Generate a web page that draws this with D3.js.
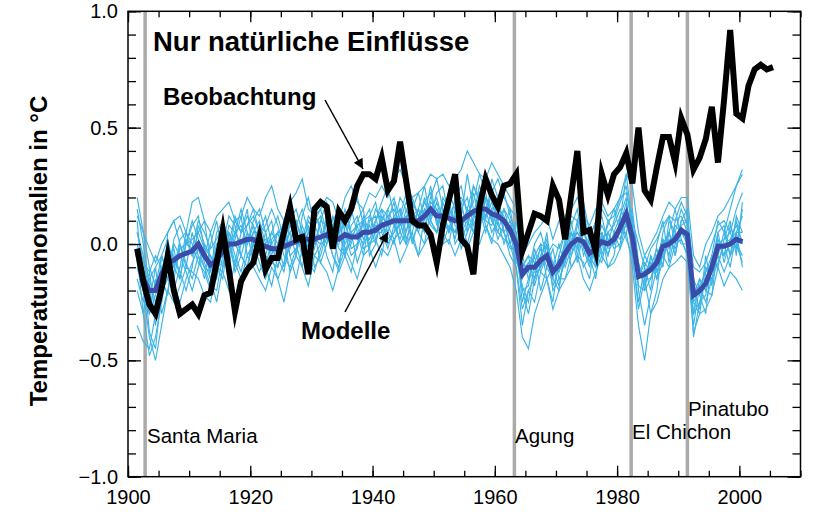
<!DOCTYPE html>
<html><head><meta charset="utf-8">
<script src="https://cdn.jsdelivr.net/npm/d3@7"></script>
<style>body{margin:0;background:#fff}</style>
</head><body>
<svg id="c" width="814" height="515"></svg>
<script>
// ---------- DATA ----------
const obsYears = d3.range(1901, 2006);
const observed = [
-0.02,-0.16,-0.26,-0.30,-0.19,-0.05,-0.20,-0.30,-0.28,-0.26,
-0.30,-0.22,-0.21,-0.08,0.06,-0.11,-0.29,-0.16,-0.11,-0.08,
0.03,-0.11,-0.06,-0.06,0.05,0.16,0.02,0.03,-0.13,0.15,
0.18,0.16,-0.02,0.14,0.10,0.15,0.25,0.30,0.30,0.28,
0.37,0.23,0.27,0.44,0.27,0.10,0.08,0.08,0.04,-0.08,
0.08,0.19,0.30,0.02,-0.01,-0.13,0.16,0.28,0.21,0.16,
0.25,0.26,0.30,-0.03,0.05,0.13,0.12,0.10,0.25,0.19,
0.02,0.21,0.40,0.05,0.06,-0.03,0.30,0.21,0.30,0.33,
0.39,0.26,0.50,0.23,0.19,0.33,0.46,0.46,0.35,0.54,
0.47,0.32,0.37,0.45,0.59,0.35,0.62,0.92,0.56,0.54,
0.68,0.75,0.77,0.75,0.76];
const modelYears = d3.range(1901, 2001);
const modelMean = [
-0.03,-0.15,-0.20,-0.20,-0.13,-0.08,-0.07,-0.05,-0.04,-0.03,
0.00,-0.05,-0.09,-0.07,-0.03,0.00,0.00,0.01,0.02,0.02,
0.00,-0.01,-0.02,-0.02,-0.01,0.00,0.01,0.02,0.02,0.02,
0.03,0.04,0.02,0.02,0.04,0.03,0.03,0.05,0.05,0.06,
0.08,0.09,0.10,0.10,0.10,0.10,0.10,0.12,0.15,0.12,
0.12,0.11,0.10,0.10,0.12,0.14,0.15,0.15,0.13,0.12,
0.10,0.06,0.00,-0.13,-0.10,-0.10,-0.07,-0.05,-0.12,-0.09,
-0.04,0.00,0.02,0.01,-0.04,-0.02,0.01,0.00,0.02,0.07,
0.13,0.03,-0.14,-0.13,-0.11,-0.08,-0.01,0.00,0.02,0.06,
0.04,-0.22,-0.20,-0.17,-0.10,-0.01,-0.01,0.00,0.02,0.01];
const run01 = [.20,.05,-.10,-.18,-.05,.02,-.10,-.15,.00,.08, .12,-.02,-.12,.05,.10,.02,-.08,.05,.12,.08, -.05,.05,.10,-.06,-.12,.02,.08,.15,.05,-.02, .10,.18,.05,-.08,.02,.12,.20,.08,-.02,.10, .18,.25,.12,.00,.05,.15,.22,.10,.20,.28, .15,.05,.20,.25,.12,.18,.30,.22,.10,.18, .22,.12,.05,-.20,-.30,-.15,-.05,.02,-.10,-.18, -.05,.08,.15,-.02,-.10,.05,.12,.00,.10,.18, .25,.05,-.20,-.35,-.22,-.10,.05,.12,.00,.10, .15,-.25,-.30,-.12,-.05,.10,.05,.15,.25,.30];
const run02 = [-.35,-.42,-.45,-.30,-.15,-.22,.00,-.05,-.12,-.20, -.10,.00,-.15,-.25,-.10,.05,-.05,-.12,.00,.10, .15,.05,-.08,.00,.10,-.05,-.15,-.02,.10,.05, -.08,.00,.12,.05,-.05,-.12,.00,.10,.15,.02, -.05,.10,.18,.05,.00,.12,.05,.00,.15,.20, .10,.22,.15,-.02,.05,.25,.20,.10,.28,.20, .05,-.05,-.10,-.35,-.20,-.25,-.12,-.15,-.25,-.05, .05,-.10,-.05,.08,.05,-.10,-.02,.10,.05,-.02, .10,.15,-.08,-.20,-.05,-.15,-.08,.05,.15,.02, -.05,-.35,-.18,-.25,-.15,-.05,-.12,-.05,.05,-.10];
const run03 = [.10,-.20,-.30,-.15,-.25,.05,.10,.00,-.10,.05, -.05,-.15,.00,.10,-.05,-.10,.05,.15,.05,-.08, .02,-.10,-.18,-.05,.05,.12,.00,-.10,.05,.12, .08,-.05,-.12,.05,.15,.05,-.08,.00,.12,.18, .05,-.02,.08,.20,.15,.02,-.05,.12,.25,.10, .00,.08,.05,.12,.30,.15,.05,.20,.12,.02, .08,.15,.00,-.25,-.15,-.05,-.20,-.10,-.02,-.15, -.15,-.05,.08,.15,.00,-.08,.05,-.10,-.05,.12, .20,-.05,-.25,-.10,-.20,.00,.10,-.08,.05,.15, .08,-.20,-.28,-.05,-.18,.05,.08,-.05,.12,.05];
const run04 = [-.05,-.10,-.38,-.45,-.20,-.15,-.12,.02,.05,-.05, .05,.10,-.08,-.15,.00,.12,.08,-.05,-.10,.05, .10,.00,.05,.12,.02,-.12,-.05,.08,.00,-.05, .00,.12,.05,.12,-.02,.00,.10,.15,-.05,.00, .15,.05,.00,.12,.22,.15,.08,.20,.10,.05, .20,.15,.00,.05,.15,.05,.18,.08,.00,.15, .12,.00,.10,-.10,-.05,-.18,-.08,.05,-.15,-.20, .00,.10,-.05,-.08,-.15,.05,.00,.08,.15,.05, .05,.12,-.10,-.15,-.30,-.20,.00,.05,-.05,.08, .10,-.15,-.22,-.30,-.05,-.10,.02,.10,-.05,.18];
const run05 = [-.15,-.25,-.12,-.30,-.05,-.15,-.20,-.10,.05,.00, -.08,-.12,-.20,-.02,-.10,-.05,.10,.05,.15,-.05, -.12,-.05,.05,.00,-.10,.10,.15,.05,-.05,.10, .15,.05,-.05,-.10,.08,.02,.05,-.05,.10,.12, .00,.15,.20,.10,.00,.05,.15,.25,.10,.05, .15,.05,.12,.02,.08,.22,.12,.25,.20,.10, .15,.10,.05,-.15,-.10,-.05,.00,-.15,-.10,.00, -.10,-.02,.10,-.05,.02,.10,-.05,.05,-.02,.00, .15,.00,-.15,-.05,-.10,-.02,-.10,.10,.05,.00, .00,-.30,-.15,-.20,-.22,.00,-.05,.08,.00,-.08];
const run06 = [.05,-.05,-.25,-.10,-.30,-.20,-.05,-.12,-.20,-.10, .08,.00,-.05,-.12,.05,.00,-.10,.00,.08,.12, .05,.12,.00,-.10,.00,.05,-.05,.12,.20,.08, .02,.10,.00,.00,.12,.15,.05,.00,.05,.15, .10,.00,.05,.15,.05,.18,.12,.05,.18,.15, .05,.00,.15,.10,.00,.10,.22,.15,.05,.10, .00,.08,-.05,-.20,-.18,-.02,-.12,-.05,-.18,-.10, -.02,.05,-.02,.10,-.08,.00,.08,.02,.00,.10, .30,.08,-.18,-.20,-.15,-.05,.02,-.05,.10,.12, .05,-.40,-.25,-.15,-.08,.05,-.08,.02,.08,.00];
const run07 = [.00,-.12,-.15,-.25,-.15,.00,-.15,-.02,.00,.10, .02,-.08,-.15,-.05,.05,-.05,.02,.12,-.05,.00, -.02,-.10,.02,.05,.08,-.02,.05,-.05,.00,.15, .05,.00,.08,-.02,-.05,.08,.12,.02,.08,.00, .12,.08,.02,.05,.15,.08,.15,.05,.10,.18, .08,.15,.10,.18,.05,.12,.10,.12,.18,.08, .05,-.02,-.02,-.05,-.15,-.12,-.05,.00,-.08,-.12, .02,.05,-.08,.05,.00,-.05,-.08,.05,.08,.15, .10,-.02,-.08,-.18,-.05,-.12,-.05,.02,-.02,.05, .00,-.18,-.22,-.10,-.15,-.08,.00,-.10,.05,.12];
const run08 = [-.10,-.20,-.30,-.22,-.10,-.05,-.02,-.15,.02,-.05, .00,-.05,.05,-.10,-.15,.05,.00,-.05,.05,.00, .08,.05,-.05,-.15,-.08,.00,.10,.00,.08,-.10, -.05,.05,.10,.15,.05,-.05,-.02,.10,.00,.05, .05,.12,.15,.08,.12,.00,.10,.18,.22,.08, .18,.10,.05,.15,.20,.08,.15,.05,.15,.18, .10,.00,-.05,-.18,-.25,-.08,-.02,-.10,-.15,-.05, -.08,.02,.05,.00,-.05,-.10,.02,-.05,.05,.02, .12,.05,-.12,-.12,-.08,-.15,.02,-.02,.08,.05, .05,-.22,-.15,-.20,-.12,.00,.02,.05,-.02,.15];
const run09 = [.15,.00,-.18,-.35,-.18,-.10,-.10,.00,-.08,-.15, -.05,-.10,-.12,.00,-.05,.08,.05,.00,.00,.08, .00,.02,.00,.05,.05,-.05,-.02,.05,-.02,.00, .10,.08,.02,.05,.10,-.02,.00,.05,.02,.08, .08,.05,.12,.15,.02,.10,.05,.15,.12,.15, .10,.05,.12,.08,.15,.12,.25,.18,.10,.05, .15,.05,-.08,-.12,-.08,-.15,.00,-.02,-.12,-.08, .00,-.05,.02,.05,-.02,.02,.05,-.02,.00,.08, .18,.00,-.15,-.08,-.12,-.05,-.02,.05,-.05,.10, .10,-.20,-.18,-.12,-.08,.02,-.05,.00,.10,.00];
const run10 = [-.05,-.30,-.15,-.10,-.05,-.12,-.08,-.02,.00,.02, .05,-.02,-.05,-.10,-.08,-.02,.05,.08,.00,.05, .05,-.05,-.08,-.10,.02,.08,.02,.00,.05,.02, .00,.02,.05,.08,.00,.05,.08,.10,.12,.05, .10,.15,.08,.10,.18,.12,.15,.08,.15,.10, .12,.18,.08,.05,.10,.15,.12,.10,.08,.15, .05,.10,.00,-.10,-.05,-.08,-.10,-.05,-.08,-.12, -.05,.00,.05,.00,-.08,.00,.02,.05,.00,.05, .08,.00,-.10,-.15,-.15,-.05,.00,.00,.02,.05, .02,-.25,-.20,-.18,-.12,.00,.00,.02,.05,.05];
const run11 = [-.08,-.20,-.40,-.50,-.35,-.20,-.25,-.18,-.10,-.12, -.15,-.22,-.25,-.10,-.12,-.20,-.08,-.15,-.05,-.10, -.15,-.20,-.10,-.15,-.25,-.12,-.05,-.10,-.18,-.05, -.08,-.12,-.20,-.10,-.02,-.08,-.15,-.05,-.02,-.10, -.02,-.05,.02,-.08,-.02,.05,-.05,.00,.05,-.02, .00,.02,-.05,.02,-.02,.05,.00,.08,.02,.00, -.05,-.10,-.20,-.40,-.45,-.30,-.22,-.15,-.28,-.20, -.15,-.10,-.05,-.15,-.20,-.12,-.05,-.10,-.08,-.02, .05,-.10,-.35,-.50,-.30,-.25,-.15,-.10,-.08,-.05, -.08,-.38,-.30,-.28,-.22,-.10,-.18,-.12,-.15,-.20];
const run12 = [.12,.05,-.02,-.08,.00,.05,.10,.12,.05,.18, .20,.10,.05,.12,.15,.18,.10,.12,.20,.15, .12,.20,.25,.15,.10,.18,.22,.28,.15,.12, .15,.20,.18,.10,.20,.25,.18,.15,.22,.20, .25,.20,.28,.32,.25,.20,.22,.25,.30,.28, .30,.25,.28,.32,.40,.35,.30,.28,.35,.30, .25,.20,.15,-.05,.00,.05,.08,.12,.02,.10, .12,.15,.20,.12,.08,.15,.18,.12,.15,.20, .30,.25,.05,-.05,.00,.05,.12,.18,.15,.20, .20,-.05,-.10,.00,.05,.12,.15,.20,.25,.32];
const run13 = [-.20,-.30,-.48,-.40,-.25,-.10,-.18,-.25,-.15,-.08, -.02,-.10,-.18,-.20,-.05,.02,-.12,-.05,-.10,.00, -.08,-.15,-.05,.05,-.05,-.10,-.02,.05,-.08,-.12, -.02,.05,-.05,-.12,-.05,.02,.08,-.02,.00,.02, .10,.02,.05,.08,.12,.02,.08,.15,.08,.05, .08,.12,.02,.15,.10,.05,.10,.20,.15,.05, .02,.00,-.10,-.28,-.20,-.15,-.10,.00,-.20,-.15, -.08,.05,.00,-.10,-.05,-.15,.05,-.05,.05,.12, .02,-.05,-.28,-.15,-.08,-.12,-.05,-.10,.00,.02, -.05,-.30,-.25,-.22,-.05,-.05,.05,-.05,.00,-.05];
const run14 = [.05,-.08,-.12,-.05,-.10,-.15,.02,.08,.00,-.02, .10,.05,-.02,.02,.08,.00,.12,.05,.08,.15, .05,.08,.15,.08,-.02,.05,.10,.02,.12,.08, .12,.02,.08,.15,.10,.05,.02,.12,.05,.10, .15,.12,.08,.02,.10,.20,.12,.18,.12,.22, .25,.12,.18,.20,.15,.25,.18,.12,.22,.28, .20,.15,.12,-.08,-.12,.00,.05,-.05,.00,-.02, .05,.12,.10,.18,.05,.08,.15,.10,.12,.20, .22,.10,.00,-.10,-.02,.02,.08,.12,.10,.18, .12,-.10,-.12,-.08,.00,.08,.10,.05,.15,.22];
const modelRuns = [run01,run02,run03,run04,run05,run06,run07,run08,run09,run10,run11,run12,run13,run14];
const volcanoNames = ["Santa Maria","Agung","El Chichon","Pinatubo"];
const volcanoYears = [1902.8, 1963.2, 1982.3, 1991.5];
const xTickValues = [1900,1920,1940,1960,1980,2000];
const xTickLabels = ["1900","1920","1940","1960","1980","2000"];
const yTickValues = [-1,-0.5,0,0.5,1];
const yTickLabels = ["\u22121.0","\u22120.5","0.0","0.5","1.0"];
const titleText = "Nur natürliche Einflüsse";
const yLabelText = "Temperaturanomalien in °C";

// ---------- DRAW ----------
const svg = d3.select("#c");
const FONT = "'Liberation Sans', Arial, Helvetica, sans-serif";
svg.append("rect").attr("width",814).attr("height",515).attr("fill","#fff");
const L=128, R=800.5, T=11.3, B=476.7;
const x = d3.scaleLinear().domain([1900,2010]).range([L,R]);
const y = d3.scaleLinear().domain([-1,1]).range([B,T]);

// volcano lines
svg.append("g").selectAll("line").data(volcanoYears).join("line")
  .attr("x1",d=>x(d)).attr("x2",d=>x(d)).attr("y1",T).attr("y2",B)
  .attr("stroke","#aaaaaa").attr("stroke-width",3.5);

const mLine = d3.line().x((d,i)=>x(modelYears[i]+0.5)).y(d=>y(d));
const oLine = d3.line().x((d,i)=>x(obsYears[i]+0.5)).y(d=>y(d));

svg.append("g").selectAll("path").data(modelRuns).join("path")
  .attr("d",mLine).attr("fill","none").attr("stroke","#3db4e6").attr("stroke-width",1.15);
svg.append("path").attr("d",mLine(modelMean)).attr("fill","none")
  .attr("stroke","#3a4ca8").attr("stroke-width",5);
svg.append("path").attr("d",oLine(observed)).attr("fill","none")
  .attr("stroke","#000").attr("stroke-width",6).attr("stroke-linejoin","miter").attr("stroke-miterlimit",6);

// axes
const minorX = d3.range(1900,2011,5);
const minorY = d3.range(-10,11,1).map(v=>v/10);
function styleAxis(g){ g.select(".domain").remove(); g.selectAll("line").attr("stroke","#000").attr("stroke-width",1.3); }
svg.append("g").attr("transform",`translate(0,${B})`).call(d3.axisBottom(x).tickValues(minorX).tickSizeInner(-6).tickSizeOuter(0).tickFormat("")).call(styleAxis);
svg.append("g").attr("transform",`translate(0,${B})`).call(d3.axisBottom(x).tickValues(xTickValues).tickSizeInner(-11).tickSizeOuter(0).tickPadding(13).tickFormat((d,i)=>xTickLabels[i])).call(styleAxis)
  .selectAll("text").attr("font-family",FONT).attr("font-size",20).attr("fill","#000");
svg.append("g").attr("transform",`translate(0,${T})`).call(d3.axisTop(x).tickValues(minorX).tickSizeInner(-6).tickSizeOuter(0).tickFormat("")).call(styleAxis);
svg.append("g").attr("transform",`translate(0,${T})`).call(d3.axisTop(x).tickValues(xTickValues).tickSizeInner(-11).tickSizeOuter(0).tickFormat("")).call(styleAxis);
svg.append("g").attr("transform",`translate(${L},0)`).call(d3.axisLeft(y).tickValues(minorY).tickSizeInner(-8).tickSizeOuter(0).tickFormat("")).call(styleAxis);
svg.append("g").attr("transform",`translate(${L},0)`).call(d3.axisLeft(y).tickValues(yTickValues).tickSizeInner(-13).tickSizeOuter(0).tickPadding(10).tickFormat((d,i)=>yTickLabels[i])).call(styleAxis)
  .selectAll("text").attr("font-family",FONT).attr("font-size",20).attr("fill","#000");
svg.append("g").attr("transform",`translate(${R},0)`).call(d3.axisRight(y).tickValues(minorY).tickSizeInner(-8).tickSizeOuter(0).tickFormat("")).call(styleAxis);
svg.append("g").attr("transform",`translate(${R},0)`).call(d3.axisRight(y).tickValues(yTickValues).tickSizeInner(-13).tickSizeOuter(0).tickFormat("")).call(styleAxis);
svg.append("rect").attr("x",L).attr("y",T).attr("width",R-L).attr("height",B-T)
  .attr("fill","none").attr("stroke","#000").attr("stroke-width",1.5);

// volcano labels
const vPos = [[147,443],[515,443],[632,439],[688,416]];
svg.append("g").selectAll("text").data(volcanoNames).join("text")
  .attr("x",(d,i)=>vPos[i][0]).attr("y",(d,i)=>vPos[i][1])
  .attr("font-family",FONT).attr("font-size",20.5).attr("fill","#000").text(d=>d);

// title & labels
svg.append("text").attr("x",153).attr("y",51).attr("font-family",FONT).attr("font-weight","bold")
  .attr("font-size",27.5).text(titleText);
svg.append("text").attr("x",163).attr("y",105).attr("font-family",FONT).attr("font-weight","bold")
  .attr("font-size",24).text("Beobachtung");
svg.append("text").attr("x",301).attr("y",339).attr("font-family",FONT).attr("font-weight","bold")
  .attr("font-size",24).text("Modelle");
svg.append("text").attr("transform","translate(47,251) rotate(-90)").attr("text-anchor","middle")
  .attr("font-family",FONT).attr("font-weight","bold").attr("font-size",24).text(yLabelText);

// arrows
const defs = svg.append("defs");
defs.append("marker").attr("id","ah").attr("viewBox","0 0 10 10").attr("refX",10).attr("refY",5)
  .attr("markerWidth",13).attr("markerHeight",10).attr("markerUnits","userSpaceOnUse").attr("orient","auto")
  .append("path").attr("d","M0,0 L10,5 L0,10 Z").attr("fill","#000");
svg.append("line").attr("x1",325).attr("y1",100).attr("x2",363).attr("y2",169)
  .attr("stroke","#000").attr("stroke-width",1.5).attr("marker-end","url(#ah)");
svg.append("line").attr("x1",345).attr("y1",312).attr("x2",388).attr("y2",232)
  .attr("stroke","#000").attr("stroke-width",1.5).attr("marker-end","url(#ah)");
</script>
</body></html>
